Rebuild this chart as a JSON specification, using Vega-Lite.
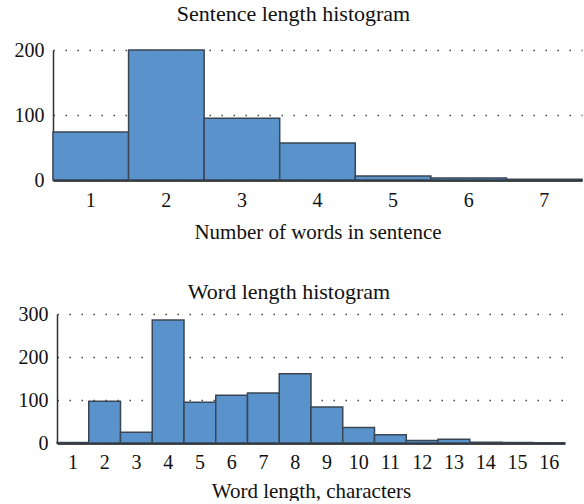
{
  "$schema": "https://vega.github.io/schema/vega-lite/v6.json",
  "background": "white",
  "padding": {"left": 14, "top": 3, "right": 0, "bottom": 0},
  "spacing": 39,
  "config": {
    "font": "Liberation Serif",
    "view": {"stroke": null},
    "title": {"font": "Liberation Serif", "fontSize": 22, "fontWeight": "normal", "color": "#111"},
    "axis": {"labelFont": "Liberation Serif", "titleFont": "Liberation Serif", "labelFontSize": 20, "titleFontSize": 21, "titleFontWeight": "normal", "labelColor": "#111", "titleColor": "#111", "ticks": false}
  },
  "vconcat": [
    {
      "title": {"text": "Sentence length histogram", "offset": 14, "dx": -24},
      "width": 529,
      "height": 130,
      "data": {"values": [
        {"words": "1", "count": 74},
        {"words": "2", "count": 200},
        {"words": "3", "count": 95},
        {"words": "4", "count": 57},
        {"words": "5", "count": 6},
        {"words": "6", "count": 3},
        {"words": "7", "count": 1}
      ]},
      "layer": [
        {
          "mark": {"type": "bar", "fill": "#5a93cb", "stroke": "#3a4654", "strokeWidth": 1.5},
          "encoding": {
            "x": {"field": "words", "type": "ordinal", "scale": {"paddingInner": 0, "paddingOuter": 0},
              "axis": {"title": "Number of words in sentence", "labelAngle": 0, "labelPadding": 10, "titlePadding": 11, "domainColor": "#111", "domainWidth": 2.5}},
            "y": {"field": "count", "type": "quantitative", "scale": {"domain": [0, 200]},
              "axis": {"title": null, "values": [0, 100, 200], "labelPadding": 9, "domainColor": "#333", "domainWidth": 1.5, "grid": true, "gridColor": "#444", "gridDash": [1.5, 10.5], "gridWidth": 1.5}}
          }
        }
      ]
    },
    {
      "title": {"text": "Word length histogram", "offset": 0, "dx": -20},
      "width": 512,
      "height": 129,
      "data": {"values": [
        {"len": "1", "count": 1},
        {"len": "2", "count": 97},
        {"len": "3", "count": 25},
        {"len": "4", "count": 286},
        {"len": "5", "count": 95},
        {"len": "6", "count": 111},
        {"len": "7", "count": 116},
        {"len": "8", "count": 161},
        {"len": "9", "count": 84},
        {"len": "10", "count": 36},
        {"len": "11", "count": 19},
        {"len": "12", "count": 6},
        {"len": "13", "count": 9},
        {"len": "14", "count": 2},
        {"len": "15", "count": 1},
        {"len": "16", "count": 0}
      ]},
      "mark": {"type": "bar", "fill": "#5a93cb", "stroke": "#3a4654", "strokeWidth": 1.5},
      "encoding": {
        "x": {"field": "len", "type": "ordinal", "sort": null, "scale": {"paddingInner": 0, "paddingOuter": 0, "range": [4, 512]},
          "axis": {"title": "Word length, characters", "labelAngle": 0, "labelPadding": 9, "titlePadding": 8, "domainColor": "#111", "domainWidth": 2.5}},
        "y": {"field": "count", "type": "quantitative", "scale": {"domain": [0, 300]},
          "axis": {"title": null, "values": [0, 100, 200, 300], "offset": -4, "labelPadding": 9, "domainColor": "#333", "domainWidth": 1.5, "grid": true, "gridColor": "#444", "gridDash": [1.5, 10.5], "gridWidth": 1.5}}
      }
    }
  ]
}
